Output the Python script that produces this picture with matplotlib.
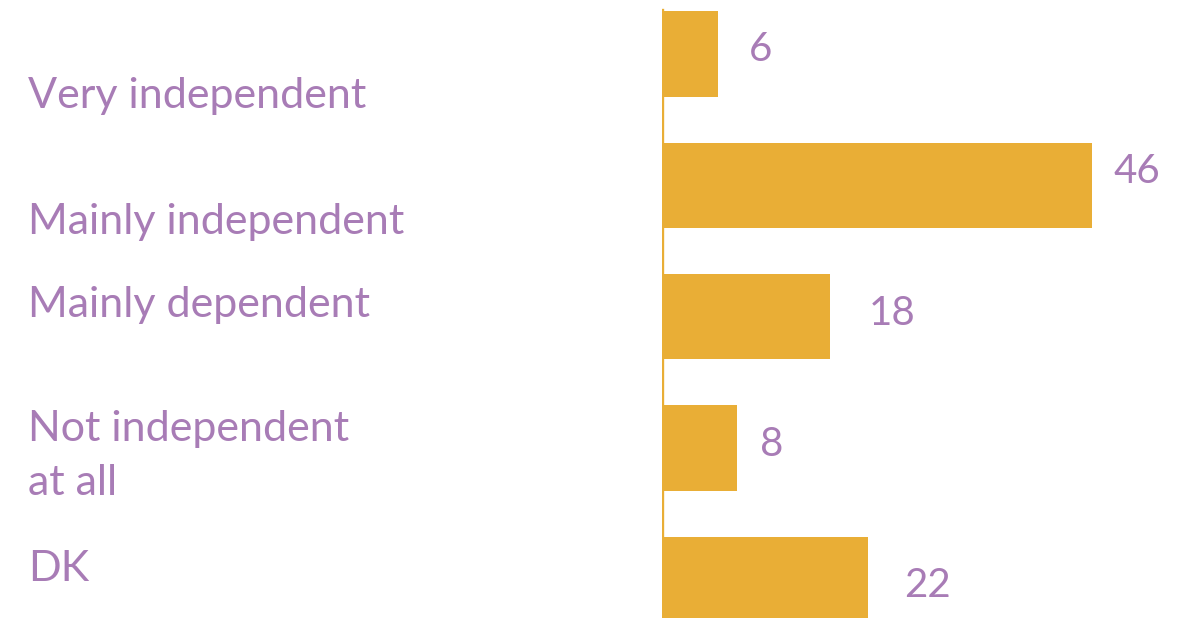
import matplotlib.pyplot as plt

categories = ['Very independent', 'Mainly independent', 'Mainly dependent',
              'Not independent\nat all', 'DK']
values = [6, 46, 18, 8, 22]

bar_color = '#E9AE36'
text_color = '#A87CB6'
plt.rcParams['font.family'] = ['Lato', 'DejaVu Sans']

# label nudges (px) to mimic the original layout
value_dx = [42, 45, 62, 35, 60]
value_dy = [4, 14, 3, 4, -6]
label_base = [108, 234, 317, 495, 581]  # baseline y of last line, px from top

W, H = 1181, 618
fig = plt.figure(figsize=(W / 100, H / 100), dpi=100)
ax = fig.add_axes([662 / W, 0, 1 - 662 / W, 1])

pos = list(range(len(values)))
ax.barh(pos, values, height=0.65, color=bar_color, zorder=2)
ax.set_xlim(0, 55.5)
ax.set_ylim(4.293, -0.411)
ax.axvline(0, ymin=0, ymax=1 - 10 / H, color=bar_color, lw=2.4, zorder=1)

for spine in ax.spines.values():
    spine.set_visible(False)
ax.set_xticks([])
ax.set_yticks([])

for i, v in enumerate(values):
    ax.annotate(str(v), (v, i), xytext=(value_dx[i] * 0.72, value_dy[i] * 0.72),
                textcoords='offset points', ha='center', va='center',
                fontsize=29, color=text_color)

for lab, yb in zip(categories, label_base):
    fig.text(28 / W, 1 - yb / H, lab, ha='left', va='baseline',
             fontsize=31, color=text_color, linespacing=1.5)

fig.savefig('out.png', dpi=100)
